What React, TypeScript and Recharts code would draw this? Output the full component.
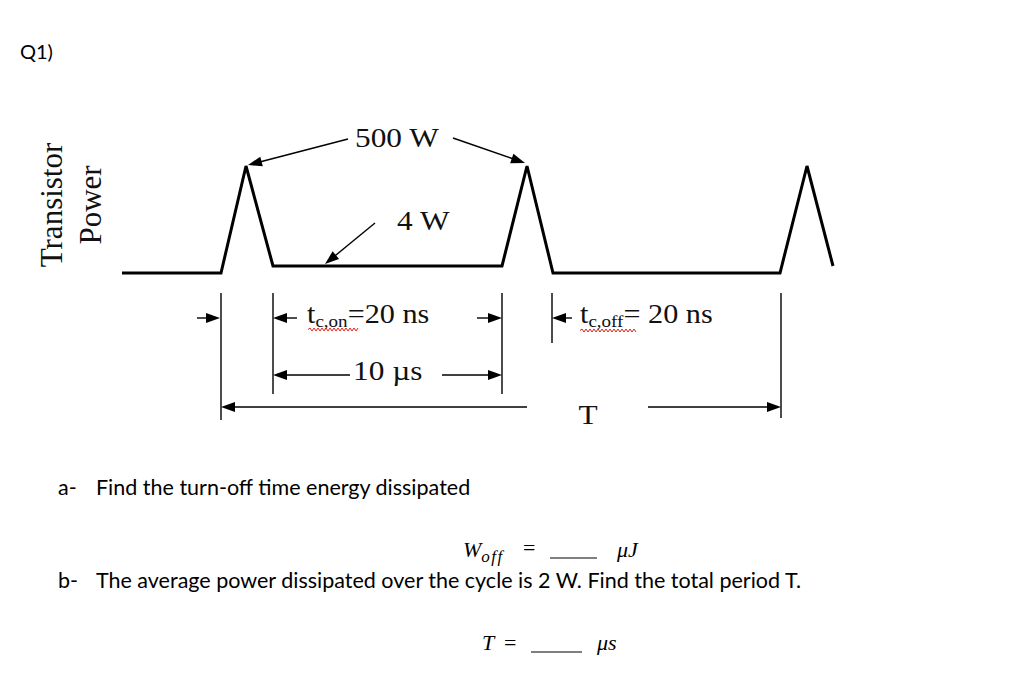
import React from 'react';
import { LineChart, Line, XAxis, YAxis, ReferenceLine } from 'recharts';

// waveform corners, in drawing units (the sketch is not to scale)
const cornerTimes = [0, 99, 124, 151, 380, 405, 431, 658, 685, 711];
const cornerPower = [0, 0, 107, 7, 7, 107, 0, 0, 107, 7];

const X_MAX = 868;
const Y_MAX = 151;

const waveform = cornerTimes.map((t, i) => ({ t, p: cornerPower[i] }));

// callout arrows: [tailT, tailP, tipT, tipP]
const calloutArrows = [
  [226, 134, 126, 108],
  [331, 135, 403, 110],
  [253, 50, 203, 9],
];

// extension lines below the time axis: [t, top, bottom]
const extensionLines = [
  [99, -20, -147],
  [151, -20, -121],
  [380, -20, -121],
  [430, -20, -70],
  [659, -20, -145],
];

// dimension arrows: [tailT, tailP, tipT, tipP]
const dimArrows = [
  [75, -45, 98, -45],
  [175, -45, 151, -45],
  [355, -45, 380, -45],
  [450, -45, 430, -45],
  [228, -102, 151, -102],
  [320, -102, 380, -102],
  [405, -134, 99, -134],
  [526, -134, 659, -134],
];

const SERIF = '"Liberation Serif", "Times New Roman", serif';
const SANS = 'Lato, "Open Sans", sans-serif';

const ArrowShape = (props: any) => {
  const { x1, y1, x2, y2 } = props;
  const len = 14;
  const half = 5;
  const dx = x2 - x1;
  const dy = y2 - y1;
  const d = Math.hypot(dx, dy) || 1;
  const ux = dx / d;
  const uy = dy / d;
  const bx = x2 - ux * len;
  const by = y2 - uy * len;
  const pts = `${x2},${y2} ${bx - uy * half},${by + ux * half} ${bx + uy * half},${by - ux * half}`;
  return (
    <g>
      <line x1={x1} y1={y1} x2={bx + ux} y2={by + uy} stroke="#000" strokeWidth={1.4} />
      <polygon points={pts} fill="#000" />
    </g>
  );
};

// red spell-check squiggle
const squiggle = (x0: number, x1: number, y: number) => {
  let d = `M${x0},${y}`;
  let up = true;
  for (let x = x0 + 2; x <= x1; x += 2) {
    d += ` L${x},${up ? y - 1.5 : y + 1.5}`;
    up = !up;
  }
  return <path d={d} stroke="#e0201a" strokeWidth={1} fill="none" />;
};

const Stretched = ({ x, y, children, anchor = 'start', size = 28 }: any) => (
  <g transform={`translate(${x},${y}) scale(1.12,1)`}>
    <text x={0} y={0} fontFamily={SERIF} fontSize={size} fill="#111" textAnchor={anchor}>
      {children}
    </text>
  </g>
);

const App = () => {
  return (
    <div style={{ position: 'absolute', left: 0, top: 0, width: 1029, height: 674, background: '#fff' }}>
      <LineChart
        width={1029}
        height={674}
        data={waveform}
        margin={{ top: 122, right: 39, bottom: 401, left: 122 }}
      >
        <XAxis
          dataKey="t"
          type="number"
          domain={[0, X_MAX]}
          tick={false}
          tickLine={false}
          height={0}
          axisLine={{ stroke: '#000', strokeWidth: 1.5 }}
        />
        <YAxis
          type="number"
          domain={[0, Y_MAX]}
          tick={false}
          tickLine={false}
          width={0}
          axisLine={{ stroke: '#000', strokeWidth: 1.5 }}
        />
        <Line
          type="linear"
          dataKey="p"
          stroke="#000"
          strokeWidth={3}
          dot={false}
          activeDot={false}
          strokeLinejoin="miter"
          isAnimationActive={false}
        />
        {calloutArrows.map((a, i) => (
          <ReferenceLine
            key={`c${i}`}
            ifOverflow="visible"
            segment={[{ x: a[0], y: a[1] }, { x: a[2], y: a[3] }]}
            shape={ArrowShape}
          />
        ))}
        {extensionLines.map((e, i) => (
          <ReferenceLine
            key={`e${i}`}
            ifOverflow="visible"
            segment={[{ x: e[0], y: e[1] }, { x: e[0], y: e[2] }]}
            stroke="#000"
            strokeWidth={1.4}
          />
        ))}
        {dimArrows.map((a, i) => (
          <ReferenceLine
            key={`d${i}`}
            ifOverflow="visible"
            segment={[{ x: a[0], y: a[1] }, { x: a[2], y: a[3] }]}
            shape={ArrowShape}
          />
        ))}
      </LineChart>

      <svg
        width={1029}
        height={674}
        style={{ position: 'absolute', left: 0, top: 0, pointerEvents: 'none' }}
      >
        <text x={20} y={59} fontFamily={SANS} fontSize={20} fill="#000">Q1)</text>

        <text
          transform="translate(62,205) rotate(-90)"
          textAnchor="middle"
          fontFamily={SERIF}
          fontSize={31}
          fill="#111"
        >
          Transistor
        </text>
        <text
          transform="translate(101,205) rotate(-90)"
          textAnchor="middle"
          fontFamily={SERIF}
          fontSize={31}
          fill="#111"
        >
          Power
        </text>

        <Stretched x={355} y={147}>500 W</Stretched>
        <Stretched x={397} y={230}>4 W</Stretched>

        <Stretched x={307} y={323} size={27}>
          t<tspan fontSize={17} dy={4}>c,on</tspan>
          <tspan dy={-4}>=20 ns</tspan>
        </Stretched>
        {squiggle(308, 358, 329.5)}

        <Stretched x={580} y={323} size={27}>
          t<tspan fontSize={17} dy={4}>c,off</tspan>
          <tspan dy={-4}>= 20 ns</tspan>
        </Stretched>
        {squiggle(580, 636, 330.5)}

        <Stretched x={353} y={380}>10 µs</Stretched>
        <Stretched x={588} y={424} anchor="middle">T</Stretched>

        <text x={58} y={495} fontFamily={SANS} fontSize={21.5} fill="#000">a-</text>
        <text x={96} y={495} fontFamily={SANS} fontSize={21.5} fill="#000">
          Find the turn-off time energy dissipated
        </text>

        <text x={463} y={557} fontFamily={SERIF} fontStyle="italic" fontSize={22} fill="#000">
          W<tspan fontSize={17} dy={5} letterSpacing={1.5}>off</tspan>
        </text>
        <text x={523} y={555} fontFamily={SERIF} fontSize={22} fill="#000">=</text>
        <line x1={550} y1={558} x2={597} y2={558} stroke="#000" strokeWidth={1} />
        <text x={617} y={557} fontFamily={SERIF} fontStyle="italic" fontSize={22} fill="#000">μJ</text>

        <text x={58} y={588} fontFamily={SANS} fontSize={21.5} fill="#000">b-</text>
        <text x={96} y={588} fontFamily={SANS} fontSize={21.5} fill="#000">
          The average power dissipated over the cycle is 2 W. Find the total period T.
        </text>

        <text x={482} y={650} fontFamily={SERIF} fontStyle="italic" fontSize={22} fill="#000">T</text>
        <text x={504} y={650} fontFamily={SERIF} fontSize={22} fill="#000">=</text>
        <line x1={531} y1={652} x2={582} y2={652} stroke="#000" strokeWidth={1} />
        <text x={597} y={650} fontFamily={SERIF} fontStyle="italic" fontSize={22} fill="#000">μs</text>
      </svg>
    </div>
  );
};

export default App;
